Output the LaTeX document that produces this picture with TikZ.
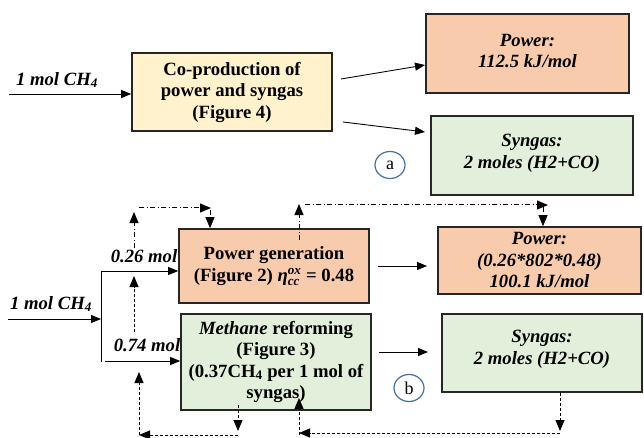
\documentclass[tikz,border=0pt]{standalone}
\usepackage{amsmath}
\usepackage{fontspec}
\setmainfont{Liberation Serif}
\usetikzlibrary{arrows.meta,shapes.geometric}
\definecolor{cyel}{HTML}{FFF2CC}
\definecolor{corg}{HTML}{F8CBAD}
\definecolor{cgrn}{HTML}{E2EFDA}
\definecolor{cblu}{HTML}{41719C}
\begin{document}
\begin{tikzpicture}[x=1pt,y=-1pt,
  box/.style={draw=black!85,line width=1.6pt,align=center,inner sep=0pt,
     font=\fontsize{18.7}{21.5}\selectfont\bfseries},
  flow/.style={line width=0.9pt,-{Triangle[length=10pt,width=8pt]}},
  dd/.style={line width=1pt,dash pattern=on 5pt off 2.5pt on 1pt off 2.5pt,-{Triangle[length=11pt,width=9pt]}},
  ds/.style={line width=1pt,dash pattern=on 3pt off 2pt,-{Triangle[length=11pt,width=9pt]}},
  lbl/.style={font=\fontsize{18.7}{20}\selectfont\bfseries\itshape,inner sep=0pt},
  tag/.style={draw=cblu,line width=1.2pt,ellipse,minimum width=30pt,minimum height=27pt,inner sep=0pt,
     font=\fontsize{18}{20}\selectfont}]
\useasboundingbox (0,0) rectangle (644,438);
% ---------- (a) ----------
\node[box,fill=cyel,minimum width=200pt,minimum height=78pt] (cop) at (232,92)
  {Co-production of\\power and syngas\\(Figure 4)};
\node[box,fill=corg,minimum width=203pt,minimum height=79pt] (pwa) at (527.5,53.5)
  {\itshape Power:\\\itshape 112.5 kJ/mol\\[-16pt]\mbox{}};
\node[box,fill=cgrn,minimum width=202pt,minimum height=79pt] (sga) at (532,155.5)
  {\itshape Syngas:\\\itshape 2 moles (H2+CO)\\[-13pt]\mbox{}};
\node[tag] (ta) at (390,165) {a};
\coordinate (ina) at (9,94);
\draw[flow] (ina) -- (cop.west |- ina);
\node[lbl] (la) at (57,80) {1 mol CH\textsubscript{4}};
\coordinate (a1) at (341,79);
\coordinate (a2) at (425,65);
\draw[flow] (a1) -- (a2);
\coordinate (a3) at (343,122);
\coordinate (a4) at (425,132);
\draw[flow] (a3) -- (a4);
% ---------- (b) ----------
\node[box,fill=corg,minimum width=190pt,minimum height=74pt] (pg) at (274,266)
  {Power generation\\(Figure 2) \textit{η}$^{\text{\itshape ox}}_{\text{\itshape cc}}$ = 0.48};
\node[box,fill=cgrn,minimum width=190pt,minimum height=96pt] (mr) at (276,362)
  {\textit{Methane} reforming\\(Figure 3)\\(0.37CH\textsubscript{4} per 1 mol of\\syngas)};
\node[box,fill=corg,minimum width=203pt,minimum height=67pt] (pwb) at (539.5,260.5)
  {\itshape Power:\\\itshape (0.26*802*0.48)\\\itshape 100.1 kJ/mol};
\node[box,fill=cgrn,minimum width=200pt,minimum height=78pt] (sgb) at (542,353)
  {\itshape Syngas:\\\itshape 2 moles (H2+CO)\\[-10pt]\mbox{}};
\node[tag] (tb) at (409,388) {b};
% inputs
\coordinate (inb) at (8,319);
\coordinate (sp) at (101,319);
\coordinate (spt) at (101,271);
\coordinate (spb) at (101,362);
\coordinate (spb2) at (105,361);
\draw[flow] (inb) -- (sp);
\draw[line width=0.9pt] (spt) -- (spb);
\draw[flow] (spt) -- (pg.west |- spt);
\draw[flow] (spb2) -- (mr.west |- spb2);
\node[lbl] (lb) at (51,304) {1 mol CH\textsubscript{4}};
\node[lbl] (l26) at (144,256) {0.26 mol};
\node[lbl] (l74) at (147,345) {0.74 mol};
% outputs
\coordinate (o1) at (378,266);
\draw[flow] (o1) -- (427,266);
\coordinate (o2) at (379,352);
\draw[flow] (o2) -- (428,352);
% dash-dot loops
\coordinate (d1) at (134,248); \coordinate (d1e) at (134,212);
\draw[dd] (d1) -- (d1e);
\coordinate (d2) at (139,208); \coordinate (d2e) at (211,208);
\draw[dd] (d2) -- (d2e);
\coordinate (d3) at (210,210);
\draw[dd] (d3) -- (pg.north -| d3);
\coordinate (d4) at (299,240); \coordinate (d4e) at (299,204);
\draw[dd] (d4) -- (d4e);
\coordinate (d5) at (305,205); \coordinate (d5e) at (548,205);
\draw[dd] (d5) -- (d5e);
\coordinate (d6) at (543,207);
\draw[dd] (d6) -- (pwb.north -| d6);
% dashed loops
\coordinate (e1) at (134,332); \coordinate (e1e) at (134,276);
\draw[ds] (e1) -- (e1e);
\coordinate (e2) at (139,435); \coordinate (e2e) at (139,372);
\draw[ds] (e2) -- (e2e);
\coordinate (e3) at (238,405); \coordinate (e3e) at (238,431);
\draw[ds] (e3) -- (e3e);
\coordinate (e4) at (238,435); \coordinate (e4e) at (139,435);
\draw[ds] (e4) -- (e4e);
\coordinate (e5) at (299,435); \coordinate (e5e) at (299,398);
\draw[ds] (e5) -- (e5e);
\coordinate (e6) at (560,433); \coordinate (e6e) at (299,433);
\draw[ds] (e6) -- (e6e);
\coordinate (e7e) at (560,431);
\draw[ds] (sgb.south -| e7e) -- (e7e);
\end{tikzpicture}
\end{document}
